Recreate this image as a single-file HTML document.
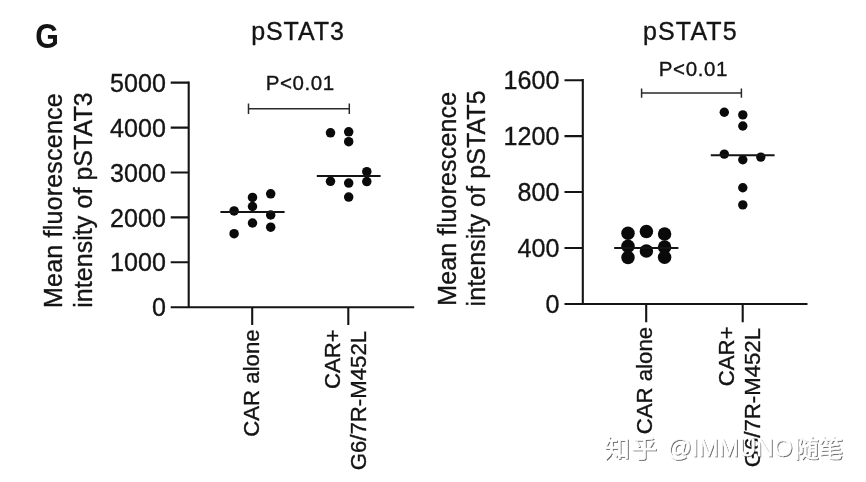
<!DOCTYPE html>
<html lang="en">
<head>
<meta charset="utf-8">
<title>pSTAT3 / pSTAT5</title>
<style>
html,body{margin:0;padding:0;background:#fff;}
body{width:866px;height:482px;overflow:hidden;}
svg{display:block;}
text{font-family:"Liberation Sans","Noto Sans CJK SC",sans-serif;fill:#141414;stroke:#141414;stroke-width:0.35;}
.wm text{fill:#fff;stroke:#fff;stroke-width:0.3;}
.ax{stroke:#141414;stroke-width:2.1;fill:none;stroke-linecap:butt;}
.med{stroke:#141414;stroke-width:2;fill:none;}
.br{stroke:#2a2a2a;stroke-width:1.5;fill:none;}
.d circle{fill:#0a0a0a;}
.chart{filter:blur(0.35px);}
</style>
</head>
<body>
<svg width="866" height="482" viewBox="0 0 866 482">
<rect width="866" height="482" fill="#fff"/>

<g class="chart">
<!-- panel letter -->
<text transform="translate(35.3 47.8) scale(1 1.125)" font-size="30.4" font-weight="bold" style="stroke:none">G</text>

<!-- ===== LEFT PLOT ===== -->
<text x="298" y="40.2" font-size="25" text-anchor="middle" letter-spacing="0.95">pSTAT3</text>
<text x="300.2" y="89.6" font-size="20.5" text-anchor="middle" letter-spacing="0.55">P&lt;0.01</text>
<path class="br" d="M248.5 108.7H349.3M248.5 103.4V113.9M349.3 103.4V113.9"/>

<!-- axes -->
<path class="ax" d="M188.7 81.6V308.2M170.7 307.2H414.2"/>
<path class="ax" d="M170.7 82.6H188.7M170.7 127.6H188.7M170.7 172.5H188.7M170.7 217.4H188.7M170.7 262.3H188.7"/>
<path class="ax" d="M252.2 307.2V325M348.3 307.2V325"/>
<g font-size="25.1" text-anchor="end">
<text x="165.9" y="91.7">5000</text>
<text x="165.9" y="136.7">4000</text>
<text x="165.9" y="181.6">3000</text>
<text x="165.9" y="226.5">2000</text>
<text x="165.9" y="271.4">1000</text>
<text x="165.9" y="316.3">0</text>
</g>
<!-- y label -->
<text transform="translate(61.8 307.9) rotate(-90)" font-size="25" textLength="214.5" lengthAdjust="spacing">Mean fluorescence</text>
<text transform="translate(91.7 307.8) rotate(-90)" font-size="25" textLength="215.5" lengthAdjust="spacing">intensity of pSTAT3</text>
<!-- x labels -->
<g font-size="22.2" text-anchor="end">
<text transform="translate(258.7 329.4) rotate(-90)">CAR alone</text>
<text transform="translate(339.5 329.2) rotate(-90)">CAR+</text>
<text transform="translate(366.1 330.9) rotate(-90)">G6/7R-M452L</text>
</g>
<!-- data -->
<g class="d">
<circle cx="234.1" cy="210.9" r="4.75"/><circle cx="234.1" cy="233.7" r="4.75"/>
<circle cx="252.5" cy="197.4" r="4.75"/><circle cx="252.5" cy="206.5" r="4.75"/><circle cx="252.5" cy="223.0" r="4.75"/>
<circle cx="270.7" cy="193.8" r="4.75"/><circle cx="270.7" cy="215.0" r="4.75"/><circle cx="270.7" cy="227.2" r="4.75"/>
<circle cx="330.5" cy="132.8" r="4.75"/><circle cx="348.7" cy="131.8" r="4.75"/><circle cx="348.7" cy="141.7" r="4.75"/>
<circle cx="366.8" cy="171.7" r="4.75"/><circle cx="366.8" cy="181.6" r="4.75"/><circle cx="330.5" cy="181.3" r="4.75"/>
<circle cx="348.7" cy="183.1" r="4.75"/><circle cx="348.7" cy="197.1" r="4.75"/>
</g>
<path class="med" d="M220.4 212.1H284.6M316.8 175.9H380.6"/>

<!-- ===== RIGHT PLOT ===== -->
<text x="690.4" y="40.2" font-size="25" text-anchor="middle" letter-spacing="1.1">pSTAT5</text>
<text x="693.4" y="75.6" font-size="20.5" text-anchor="middle" letter-spacing="0.6">P&lt;0.01</text>
<path class="br" d="M641.6 93H741.4M641.6 88.4V97.8M741.4 88.4V97.8"/>

<path class="ax" d="M582.8 79.1V305M564.5 303.95H807.5"/>
<path class="ax" d="M564.5 80.2H582.8M564.5 136.1H582.8M564.5 192H582.8M564.5 248H582.8"/>
<path class="ax" d="M646.2 303.9V322.3M742.7 303.9V322.3"/>
<g font-size="25.1" text-anchor="end">
<text x="559.4" y="89.3">1600</text>
<text x="559.4" y="145.2">1200</text>
<text x="559.4" y="201.1">800</text>
<text x="559.4" y="257.1">400</text>
<text x="559.4" y="312.9">0</text>
</g>
<text transform="translate(455.8 305.8) rotate(-90)" font-size="25" textLength="214" lengthAdjust="spacing">Mean fluorescence</text>
<text transform="translate(484.9 306.4) rotate(-90)" font-size="25" textLength="216" lengthAdjust="spacing">intensity of pSTAT5</text>
<g font-size="22.2" text-anchor="end">
<text transform="translate(652.2 326.9) rotate(-90)">CAR alone</text>
<text transform="translate(733.7 326.4) rotate(-90)">CAR+</text>
<text transform="translate(760.1 328) rotate(-90)">G6/7R-M452L</text>
</g>
<g class="d">
<circle cx="628" cy="233.2" r="6.75"/><circle cx="628" cy="246.3" r="6.75"/><circle cx="628" cy="257.6" r="6.75"/>
<circle cx="646.4" cy="231.5" r="6.75"/><circle cx="646.4" cy="251.1" r="6.75"/>
<circle cx="664.6" cy="233.9" r="6.75"/><circle cx="664.6" cy="247" r="6.75"/><circle cx="664.6" cy="257.2" r="6.75"/>
<circle cx="724.3" cy="112.2" r="4.7"/><circle cx="742.8" cy="114.9" r="4.7"/><circle cx="742.8" cy="126" r="4.7"/>
<circle cx="724.3" cy="154.1" r="4.7"/><circle cx="742.8" cy="159.7" r="4.7"/><circle cx="760.8" cy="157.1" r="4.7"/>
<circle cx="742.8" cy="187.7" r="4.7"/><circle cx="742.8" cy="204.9" r="4.7"/>
</g>
<path class="med" d="M614.2 248H678.4M710.8 155.2H774.6"/>

</g>
<!-- watermark -->
<defs>
<filter id="ws" x="-5%" y="-30%" width="110%" height="160%">
<feGaussianBlur in="SourceAlpha" stdDeviation="0.7"/>
<feOffset dx="1.3" dy="1.3"/>
<feComponentTransfer><feFuncA type="linear" slope="0.6"/></feComponentTransfer>
<feMerge><feMergeNode/><feMergeNode in="SourceGraphic"/></feMerge>
</filter>
</defs>
<g class="wm" filter="url(#ws)">
<text transform="translate(604.3 456.8) scale(1.03 0.94)" font-size="25" letter-spacing="1.2">知乎</text>
<text x="667" y="455.7" font-size="24.2">@IMMUNO</text>
<text transform="translate(794.4 456.8) scale(0.97 0.94)" font-size="25">随笔</text>
</g>
</svg>
</body>
</html>
